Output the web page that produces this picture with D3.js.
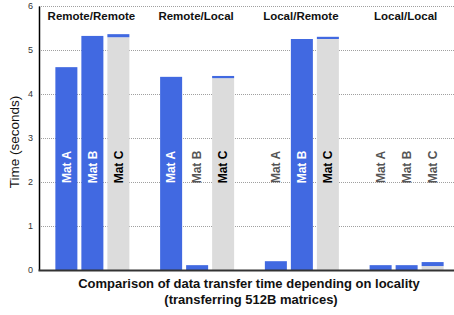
<!DOCTYPE html>
<html>
<head>
<meta charset="utf-8">
<script src="https://cdn.jsdelivr.net/npm/d3@7"></script>
<style>
  body { margin: 0; background: #fff; }
  svg { display: block; font-family: "Liberation Sans", Arial, sans-serif; }
</style>
</head>
<body>
<svg id="chart" width="454" height="315"></svg>
<script>
// data (seconds)
var groups = ["Remote/Remote", "Remote/Local", "Local/Remote", "Local/Local"];
var mats = ["Mat A", "Mat B", "Mat C"];
var matA = [4.61, 4.39, 0.20, 0.11];
var matB = [5.32, 0.11, 5.25, 0.11];
var matCBase = [5.29, 4.36, 5.25, 0.09];   // grey part
var matCExtra = [0.07, 0.05, 0.05, 0.09];  // blue cap on top
var yTicks = [0, 1, 2, 3, 4, 5, 6];

var blue = "#4169e1";
var grey = "#dcdcdc";

var svg = d3.select("#chart");
// plot area (note: "top" is reserved on window, so use prefixed names)
var plotLeft = 39, plotRight = 454, plotTop = 6, plotBottom = 270;

var x = d3.scaleBand().domain(groups).range([40, 459]);
var xSub = d3.scaleBand().domain(mats).range([0, x.bandwidth()])
    .paddingInner(0.1538).paddingOuter(0.591);
var y = d3.scaleLinear().domain([0, 6]).range([plotBottom, plotTop]);

// gridlines
svg.append("g").selectAll("line")
    .data(yTicks.filter(function (d) { return d > 0; }))
    .enter().append("line")
    .attr("x1", plotLeft).attr("x2", plotRight)
    .attr("y1", function (d) { return y(d) + 0.5; })
    .attr("y2", function (d) { return y(d) + 0.5; })
    .attr("stroke", "#a0a0a0")
    .attr("stroke-dasharray", "1,1");

// build bar records
var bars = [];
groups.forEach(function (g, i) {
    bars.push({ g: g, m: "Mat A", v: matA[i], base: 0, fill: blue });
    bars.push({ g: g, m: "Mat B", v: matB[i], base: 0, fill: blue });
    bars.push({ g: g, m: "Mat C", v: matCBase[i], base: 0, fill: grey });
    bars.push({ g: g, m: "Mat C", v: matCExtra[i], base: matCBase[i], fill: blue, cap: true });
});

svg.append("g").selectAll("rect")
    .data(bars)
    .enter().append("rect")
    .attr("x", function (d) { return x(d.g) + xSub(d.m); })
    .attr("width", xSub.bandwidth())
    .attr("y", function (d) { return y(d.base + d.v); })
    .attr("height", function (d) { return y(d.base) - y(d.base + d.v); })
    .attr("fill", function (d) { return d.fill; });

// labels inside bars
var labelY = 167;
var labelTop = y.invert(150);
svg.append("g").selectAll("text")
    .data(bars.filter(function (d) { return !d.cap; }))
    .enter().append("text")
    .attr("transform", function (d) {
        var cx = x(d.g) + xSub(d.m) + xSub.bandwidth() / 2;
        return "translate(" + cx + "," + labelY + ") rotate(-90)";
    })
    .attr("text-anchor", "middle")
    .attr("dy", "0.36em")
    .attr("font-size", "12px")
    .attr("font-weight", "bold")
    .attr("fill", function (d) {
        if (d.v < labelTop) return "#555";
        return d.fill == blue ? "#fff" : "#000";
    })
    .text(function (d) { return d.m; });

// group titles
svg.append("g").selectAll("text")
    .data(groups)
    .enter().append("text")
    .attr("x", function (d) { return x(d) + x.bandwidth() / 2 - 1; })
    .attr("y", 20)
    .attr("text-anchor", "middle")
    .attr("font-size", "11.5px")
    .attr("font-weight", "bold")
    .attr("fill", "#111")
    .text(function (d) { return d; });

// y axis
var yAxis = d3.axisLeft(y).tickValues(yTicks).tickFormat(d3.format("d"))
    .tickSize(0).tickPadding(6);
var ga = svg.append("g").attr("transform", "translate(" + plotLeft + ",0)").call(yAxis);
ga.select(".domain").attr("stroke", "#000").attr("stroke-width", 1.5);
ga.selectAll("text").attr("font-size", "9px").attr("fill", "#333")
    .attr("font-family", "Liberation Sans, Arial, sans-serif");

// bottom axis line
svg.append("line")
    .attr("x1", plotLeft - 0.5).attr("x2", plotRight)
    .attr("y1", plotBottom + 0.5).attr("y2", plotBottom + 0.5)
    .attr("stroke", "#333").attr("stroke-width", 2);

// axis titles
svg.append("text")
    .attr("transform", "translate(14,142) rotate(-90)")
    .attr("text-anchor", "middle")
    .attr("dy", "0.36em")
    .attr("font-size", "13.5px")
    .attr("fill", "#111")
    .text("Time (seconds)");

svg.append("text")
    .attr("x", 249).attr("y", 288)
    .attr("text-anchor", "middle")
    .attr("font-size", "13px")
    .attr("font-weight", "bold")
    .attr("fill", "#111")
    .text("Comparison of data transfer time depending on locality");
svg.append("text")
    .attr("x", 251).attr("y", 304)
    .attr("text-anchor", "middle")
    .attr("font-size", "13px")
    .attr("font-weight", "bold")
    .attr("fill", "#111")
    .text("(transferring 512B matrices)");
</script>
</body>
</html>
